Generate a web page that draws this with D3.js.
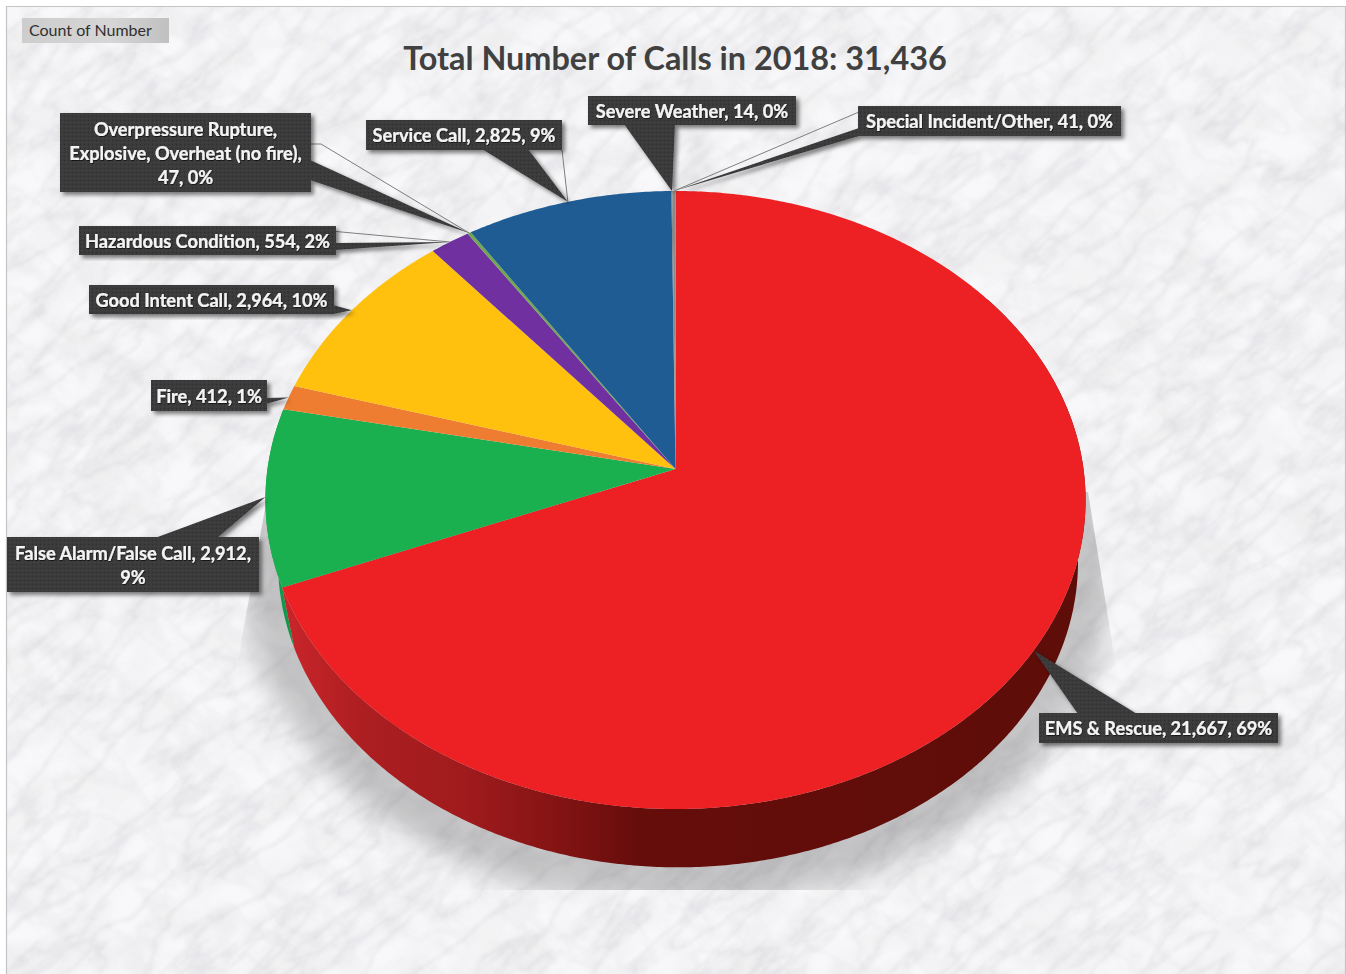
<!DOCTYPE html>
<html>
<head>
<meta charset="utf-8">
<script src="https://cdn.jsdelivr.net/npm/d3@7/dist/d3.min.js"></script>
<style>
  html, body { margin: 0; padding: 0; background: #fff; overflow: hidden; }
  svg { display: block; }
  text { font-family: Lato, "Open Sans", sans-serif; }
</style>
</head>
<body>
<svg id="chart" width="1346" height="974"></svg>
<script>
// Incident types, in the clockwise order they run round the pie from 12 o'clock.
const categories = ["EMS & Rescue", "False Alarm/False Call", "Fire", "Good Intent Call",
  "Hazardous Condition", "Overpressure Rupture, Explosive, Overheat (no fire)",
  "Service Call", "Severe Weather", "Special Incident/Other"];
const calls = [21667, 2912, 412, 2964, 554, 47, 2825, 14, 41];
const percentLabels = ["69%", "9%", "1%", "10%", "2%", "0%", "9%", "0%", "0%"];
const sliceColors = ["#ED2024", "#1AB04F", "#EF7D31", "#FFC10E", "#7030A0", "#6FA84F", "#1F5C94", "#777777", "#8A8A8A"];
const wallColors = { "EMS & Rescue": "url(#redWall)", "False Alarm/False Call": "#12984A" };

const titleText = "Total Number of Calls in 2018: " + d3.format(",")(d3.sum(calls));
const fieldButton = "Count of Number";

// Label box layout, one entry per category index.
const callouts = [
  { i: 0, box: [1039, 713, 239, 30], lines: ["EMS & Rescue, 21,667, 69%"], base: [[1078, 714], [1137, 714]] },
  { i: 1, box: [7, 537, 252, 55], lines: ["False Alarm/False Call, 2,912,", "9%"], base: [[155, 538], [217, 538]] },
  { i: 2, box: [151, 380, 116, 31], base: [[266, 398], [266, 404]] },
  { i: 3, box: [89, 285, 245, 29], base: [[333, 305], [333, 314]] },
  { i: 4, box: [79, 226, 257, 29], base: [[335, 243], [335, 250]], thread: [[336, 231.5]] },
  { i: 5, box: [60, 113, 251, 79], lines: ["Overpressure Rupture,", "Explosive, Overheat (no fire),", "47, 0%"],
    base: [[310, 160], [310, 180]], thread: [[311, 144], [321, 144]] },
  { i: 6, box: [366, 120, 196, 30], base: [[482, 149], [528, 149]], thread: [[562, 150]] },
  { i: 7, box: [588, 96, 208, 29], base: [[624, 124], [675, 124]] },
  { i: 8, box: [858, 106, 263, 30], base: [[859, 128], [859, 136]], thread: [[859, 112]] }
];

const svg = d3.select("#chart");
const defs = svg.append("defs");

// ---- gradients, filters and the dotted label fill ----
const redWall = defs.append("linearGradient").attr("id", "redWall")
  .attr("gradientUnits", "userSpaceOnUse").attr("x1", 285).attr("x2", 1090).attr("y1", 0).attr("y2", 0);
[[0, "#C9252A"], [0.1, "#AC1E21"], [0.22, "#A01B1D"], [0.33, "#861414"], [0.44, "#650D0B"], [1, "#5E0D09"]]
  .forEach(([o, c]) => redWall.append("stop").attr("offset", o).attr("stop-color", c));

const btn = defs.append("linearGradient").attr("id", "btnFill").attr("x1", 0).attr("x2", 1).attr("y1", 0).attr("y2", 0);
[[0, "#CDCDCD"], [0.6, "#D6D6D6"], [1, "#C0C0C0"]].forEach(([o, c]) => btn.append("stop").attr("offset", o).attr("stop-color", c));

const dots = defs.append("pattern").attr("id", "dots").attr("width", 4).attr("height", 4).attr("patternUnits", "userSpaceOnUse");
dots.append("rect").attr("width", 4).attr("height", 4).attr("fill", "#3B3B3B");
dots.append("rect").attr("width", 1).attr("height", 1).attr("fill", "#2E2E2E");
dots.append("rect").attr("x", 2).attr("y", 2).attr("width", 1).attr("height", 1).attr("fill", "#474747");

const drop = defs.append("filter").attr("id", "boxShadow").attr("x", "-10%").attr("y", "-10%").attr("width", "125%").attr("height", "130%");
drop.append("feDropShadow").attr("dx", 3).attr("dy", 3).attr("stdDeviation", 2.2).attr("flood-color", "#000").attr("flood-opacity", 0.5);

const soft = defs.append("filter").attr("id", "groundBlur").attr("x", "-15%").attr("y", "-15%").attr("width", "130%").attr("height", "130%");
soft.append("feGaussianBlur").attr("stdDeviation", 13);

const glow = defs.append("filter").attr("id", "textGlow").attr("x", "-5%").attr("y", "-20%").attr("width", "110%").attr("height", "140%");
glow.append("feDropShadow").attr("dx", 0.6).attr("dy", 0.8).attr("stdDeviation", 0.7).attr("flood-color", "#000").attr("flood-opacity", 0.75);

// Marble texture: band-passed fractal noise gives thin veins, a low-frequency layer gives cloudy patches.
function marbleFilter(id, freq, seed, table, tint, blur) {
  const f = defs.append("filter").attr("id", id).attr("x", 0).attr("y", 0).attr("width", "100%").attr("height", "100%")
    .attr("color-interpolation-filters", "sRGB");
  f.append("feTurbulence").attr("type", "fractalNoise").attr("baseFrequency", freq).attr("numOctaves", 5).attr("seed", seed);
  f.append("feColorMatrix").attr("type", "matrix")
    .attr("values", `0 0 0 0 ${tint} 0 0 0 0 ${tint} 0 0 0 0 ${tint + 0.02} 1 0 0 0 0`);
  const ct = f.append("feComponentTransfer");
  ct.append("feFuncA").attr("type", "table").attr("tableValues", table);
  f.append("feGaussianBlur").attr("stdDeviation", blur);
}
marbleFilter("veinsA", "0.009 0.03", 11, "0 0 0 0 0 0 0 0 0.01 0.05 0.13 0.05 0.01 0 0 0 0 0 0 0 0", 0.6, 1);
marbleFilter("veinsB", "0.012 0.024", 29, "0 0 0 0 0 0 0 0.005 0.03 0.07 0.025 0.005 0 0 0 0 0 0 0 0 0", 0.62, 1.1);
marbleFilter("clouds", "0.02 0.03", 5, "0 0 0 0 0 0 0 0 0.01 0.02 0.035 0.05 0.06 0.07 0.08 0.08 0.08 0.08 0.08 0.08 0.08", 0.7, 2);

defs.append("clipPath").attr("id", "panelClip").append("rect").attr("x", 7).attr("y", 7).attr("width", 1338).attr("height", 967);
defs.append("clipPath").attr("id", "groundClip").append("path")
  .attr("d", "M268,492 L1088,492 L1118,680 L1118,890 L238,890 L238,660 Z");

// ---- panel background ----
const panel = svg.append("g").attr("clip-path", "url(#panelClip)");
panel.append("rect").attr("x", 7).attr("y", 7).attr("width", 1338).attr("height", 967).attr("fill", "#F8F8FA");
panel.append("rect").attr("x", -500).attr("y", -700).attr("width", 2400).attr("height", 2400)
  .attr("transform", "rotate(-35 673 487)").attr("fill", "#000").attr("filter", "url(#clouds)");
panel.append("rect").attr("x", -500).attr("y", -700).attr("width", 2400).attr("height", 2400)
  .attr("transform", "rotate(-40 673 487)").attr("fill", "#000").attr("filter", "url(#veinsA)");
panel.append("rect").attr("x", -500).attr("y", -700).attr("width", 2400).attr("height", 2400)
  .attr("transform", "rotate(35 673 487)").attr("fill", "#000").attr("filter", "url(#veinsB)");

svg.append("path").attr("d", "M6.5,974 L6.5,6.5 L1345.5,6.5 L1345.5,974")
  .attr("fill", "none").attr("stroke", "#C4C4C4").attr("stroke-width", 1.2);

// ---- pie geometry ----
const arcs = d3.pie().sort(null).value(d => d).startAngle(0).endAngle(2 * Math.PI)(calls);

// Perspective view of the disc: the apex sits above the centre of the visible ellipse.
const apex = [675.5, 469];
function projector(cx, cy, a, b, k) {
  return angle => {
    const u = Math.sin(angle), v = -Math.cos(angle), w = 1 + k * v;
    return [cx + b * u / w, cy + a * v / w];
  };
}
const topFace = projector(apex[0], apex[1], 305.9, 408, -0.1003);
const baseFace = projector(678, 531, 302.6, 398, -0.1003);

const step = Math.PI / 360;
const sampleAngles = (a0, a1) => {
  const n = Math.max(2, Math.ceil((a1 - a0) / step));
  return d3.range(n + 1).map(i => a0 + (a1 - a0) * i / n);
};
const line = d3.line();

// ---- ground shadow ----
panel.append("g").attr("clip-path", "url(#groundClip)")
  .append("ellipse").attr("cx", 678).attr("cy", 570).attr("rx", 436).attr("ry", 337)
  .attr("fill", "#000").attr("fill-opacity", 0.2).attr("filter", "url(#groundBlur)");

// ---- side wall: only the slices on the front half show it ----
const wallLimit = 1.75 * Math.PI;
const frontLimit = 0.3 * Math.PI;
arcs.slice(0, 2).slice().reverse().forEach(d => {
  const a0 = Math.max(d.startAngle, frontLimit), a1 = Math.min(d.endAngle, wallLimit);
  const angles = sampleAngles(a0, a1);
  const pts = angles.map(topFace).concat(angles.slice().reverse().map(baseFace));
  svg.append("path").attr("d", line(pts) + "Z")
    .attr("fill", wallColors[categories[d.index]]);
});

// ---- top face ----
svg.append("g").selectAll("path").data(arcs).join("path")
  .attr("d", d => line([apex].concat(sampleAngles(d.startAngle, d.endAngle).map(topFace))) + "Z")
  .attr("fill", d => sliceColors[d.index]);

// ---- title and field button ----
svg.append("text").attr("x", 675).attr("y", 70).attr("text-anchor", "middle")
  .attr("font-size", 32.4).attr("font-weight", 700).attr("fill", "#404040").text(titleText);
svg.append("rect").attr("x", 22).attr("y", 18).attr("width", 147).attr("height", 25).attr("fill", "url(#btnFill)");
svg.append("text").attr("x", 29).attr("y", 36).attr("font-size", 16).attr("fill", "#2F2F2F").text(fieldButton);

// ---- data label callouts ----
const labelLines = c => c.lines || [`${categories[c.i]}, ${d3.format(",")(calls[c.i])}, ${percentLabels[c.i]}`];
const tip = c => topFace((arcs[c.i].startAngle + arcs[c.i].endAngle) / 2);

const callout = svg.append("g").selectAll("g").data(callouts).join("g");
callout.filter(c => c.thread).append("path")
  .attr("d", c => line(c.thread.concat([tip(c)])))
  .attr("fill", "none").attr("stroke", "#7E7E7E").attr("stroke-width", 1);
const body = callout.append("g").attr("filter", "url(#boxShadow)");
body.append("path").attr("d", c => line([c.base[0], tip(c), c.base[1]]) + "Z").attr("fill", "url(#dots)");
body.append("rect").attr("x", c => c.box[0]).attr("y", c => c.box[1])
  .attr("width", c => c.box[2]).attr("height", c => c.box[3]).attr("fill", "url(#dots)");

callout.each(function (c) {
  const rows = labelLines(c);
  const rowHeight = 24;
  const midY = c.box[1] + c.box[3] / 2;
  const t = d3.select(this).append("text").attr("text-anchor", "middle").attr("font-size", 18.2)
    .attr("font-weight", 700).attr("fill", "#F4F4F4").attr("stroke", "#F4F4F4").attr("stroke-width", 0.2)
    .attr("filter", "url(#textGlow)");
  rows.forEach((r, j) => {
    t.append("tspan").attr("x", c.box[0] + c.box[2] / 2)
      .attr("y", midY + 7 + (j - (rows.length - 1) / 2) * rowHeight).text(r);
  });
});
</script>
</body>
</html>
